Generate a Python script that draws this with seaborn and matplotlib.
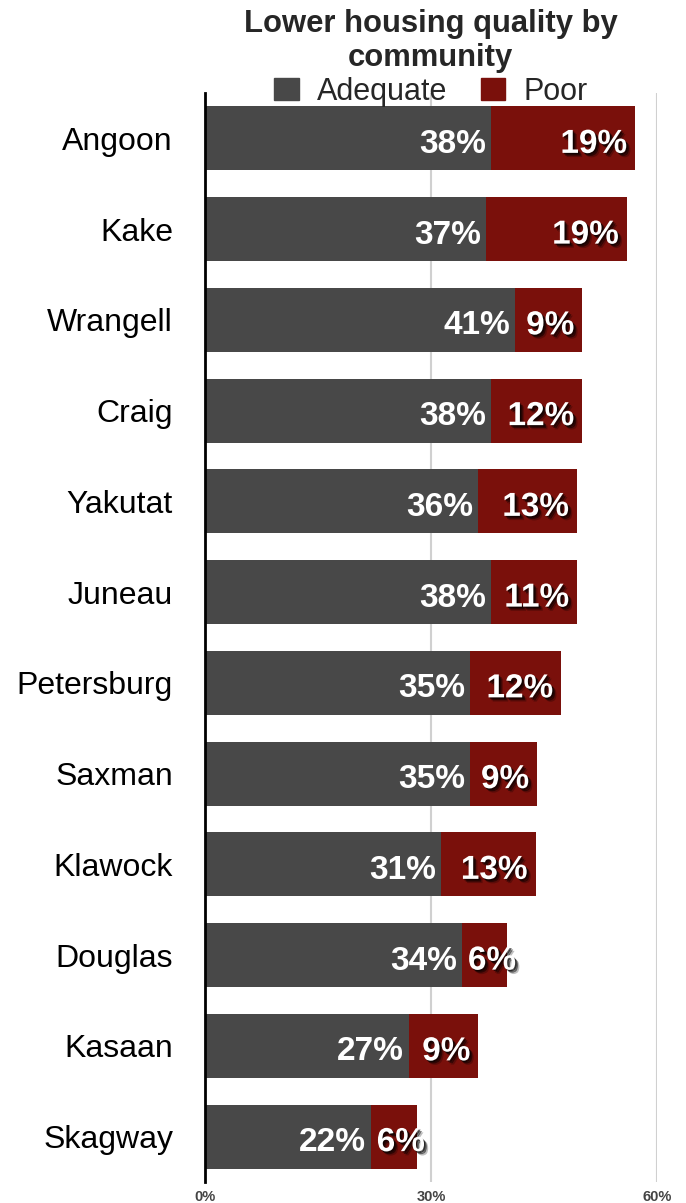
import matplotlib
matplotlib.use("Agg")
import matplotlib.pyplot as plt
import matplotlib.patheffects as pe
from matplotlib.patches import Patch
import seaborn as sns
import pandas as pd

communities = ['Angoon', 'Kake', 'Wrangell', 'Craig', 'Yakutat', 'Juneau',
               'Petersburg', 'Saxman', 'Klawock', 'Douglas', 'Kasaan', 'Skagway']
adequate = [38.0, 37.3, 41.2, 38.0, 36.3, 38.0, 35.2, 35.2, 31.3, 34.1, 27.1, 22.0]
poor = [19.1, 18.7, 8.9, 12.1, 13.1, 11.4, 12.1, 8.9, 12.6, 6.0, 9.2, 6.1]
x_ticks = [0, 30, 60]

ADEQ_COLOR = '#484848'
POOR_COLOR = '#7a100b'

df = pd.DataFrame({'Community': communities, 'Adequate': adequate, 'Poor': poor})
df['Total'] = df['Adequate'] + df['Poor']

sns.set_style("white")
plt.rcParams['font.family'] = ['Liberation Sans', 'DejaVu Sans']

fig = plt.figure(figsize=(6.86, 12.03), dpi=100)
ax = fig.add_axes([205 / 686, 1 - 1182 / 1203, (657 - 205) / 686, (1182 - 93) / 1203])

# stacked bars: total in poor colour, adequate drawn over it
sns.barplot(data=df, y='Community', x='Total', color=POOR_COLOR, saturation=1,
            width=0.705, orient='h', ax=ax, zorder=2, linewidth=0, edgecolor='none')
sns.barplot(data=df, y='Community', x='Adequate', color=ADEQ_COLOR, saturation=1,
            width=0.705, orient='h', ax=ax, zorder=3, linewidth=0, edgecolor='none')

ax.set_xlim(0, 60)
ax.set_xticks(x_ticks)
ax.set_xticklabels([f'{t}%' for t in x_ticks], fontsize=10.5, fontweight='bold', color='#444444')
ax.tick_params(axis='x', length=0, pad=6)
ax.tick_params(axis='y', length=0, pad=23, labelsize=23)
ax.set_xlabel('')
ax.set_ylabel('')
for t in ax.get_yticklabels():
    t.set_color('black')

for s in ['top', 'right', 'bottom']:
    ax.spines[s].set_visible(False)
ax.spines['left'].set_color('black')
ax.spines['left'].set_linewidth(2)
ax.spines['left'].set_zorder(5)

for x in x_ticks[1:]:
    ax.axvline(x, color='#d0d0d0', lw=1.5, zorder=1)

px = (657 - 205) / 60.0  # pixels per percent
band = (1182 - 93) / 12.0  # pixels per category
dy = 6 / band  # nudge labels a little down
renderer = fig.canvas.get_renderer()
shadow = [pe.SimplePatchShadow(offset=(3, -3), shadow_rgbFace='black', alpha=0.25),
          pe.SimplePatchShadow(offset=(2, -2), shadow_rgbFace='black', alpha=0.5),
          pe.SimplePatchShadow(offset=(1, -1), shadow_rgbFace='black', alpha=0.6),
          pe.Normal()]

for i, row in df.iterrows():
    ax.text(row['Adequate'] - 5 / px, i + dy, f"{round(row['Adequate'])}%", ha='right', va='center',
            color='white', fontsize=24, fontweight='bold', zorder=6)
    t = ax.text(row['Total'] - 8 / px, i + dy, f"{round(row['Poor'])}%", ha='right', va='center',
                color='white', fontsize=24, fontweight='bold', zorder=6, path_effects=shadow)
    bb = t.get_window_extent(renderer)
    left_px = ax.transData.transform((row['Adequate'], i))[0]
    if bb.x0 < left_px + 6:
        t.set_ha('left')
        t.set_x(row['Adequate'] + 6 / px)

handles = [Patch(color=ADEQ_COLOR, label='Adequate'), Patch(color=POOR_COLOR, label='Poor')]
ax.legend(handles=handles, loc='center', bbox_to_anchor=(0.5, 1.001), ncol=2, frameon=False,
          fontsize=22, handlelength=0.8, handleheight=0.75, handletextpad=0.6,
          columnspacing=1.1, borderpad=0)

fig.text(0.628, 1 - 41 / 1203, 'Lower housing quality by\ncommunity', ha='center', va='center',
         fontsize=22.3, fontweight='bold', linespacing=1.15)

fig.savefig('out.png', dpi=100)
